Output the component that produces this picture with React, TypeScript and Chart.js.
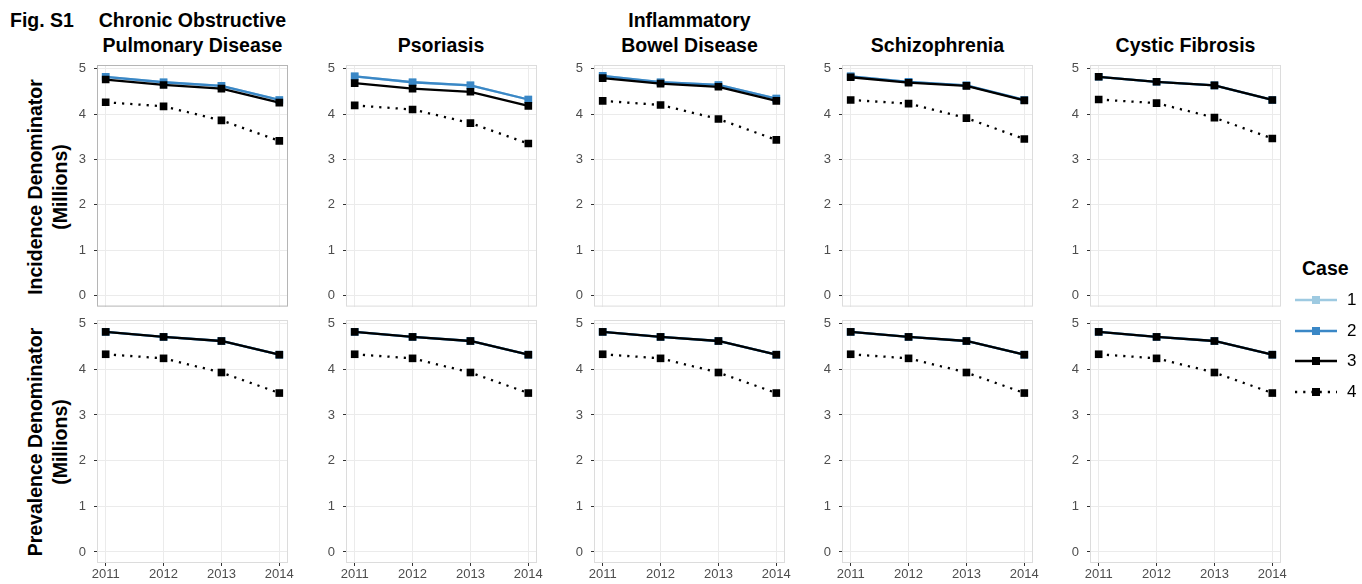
import React, { useEffect, useRef } from "react";
import { Chart, registerables } from "chart.js";

Chart.register(...registerables);

// ---------- data ----------
const years = [2011, 2012, 2013, 2014];
const diseases = [
  "Chronic Obstructive\nPulmonary Disease",
  "Psoriasis",
  "Inflammatory\nBowel Disease",
  "Schizophrenia",
  "Cystic Fibrosis",
];
const rowTitles = ["Incidence Denominator\n(Millions)", "Prevalence Denominator\n(Millions)"];
const caseLabels = ["1", "2", "3", "4"];
const yTickValues = [0, 1, 2, 3, 4, 5];

// Incidence denominators (millions), one row per disease in the order above
const incidenceCase1 = [
  [4.82, 4.7, 4.62, 4.31],
  [4.83, 4.7, 4.63, 4.32],
  [4.84, 4.7, 4.64, 4.34],
  [4.83, 4.71, 4.63, 4.31],
  [4.82, 4.71, 4.63, 4.31],
];
const incidenceCase2 = [
  [4.82, 4.7, 4.62, 4.31],
  [4.83, 4.7, 4.63, 4.32],
  [4.84, 4.7, 4.64, 4.34],
  [4.83, 4.71, 4.63, 4.31],
  [4.82, 4.71, 4.63, 4.31],
];
const incidenceCase3 = [
  [4.76, 4.64, 4.56, 4.25],
  [4.68, 4.56, 4.49, 4.18],
  [4.79, 4.67, 4.6, 4.29],
  [4.81, 4.69, 4.62, 4.3],
  [4.82, 4.71, 4.63, 4.31],
];
const incidenceCase4 = [
  [4.26, 4.17, 3.86, 3.41],
  [4.19, 4.1, 3.8, 3.35],
  [4.29, 4.2, 3.89, 3.43],
  [4.31, 4.23, 3.91, 3.45],
  [4.32, 4.24, 3.92, 3.46],
];

// Prevalence denominators (millions)
const prevalenceCase1 = [
  [4.82, 4.71, 4.62, 4.32],
  [4.82, 4.71, 4.62, 4.32],
  [4.82, 4.71, 4.62, 4.32],
  [4.82, 4.71, 4.62, 4.32],
  [4.82, 4.71, 4.62, 4.32],
];
const prevalenceCase2 = [
  [4.82, 4.71, 4.62, 4.32],
  [4.82, 4.71, 4.62, 4.32],
  [4.82, 4.71, 4.62, 4.32],
  [4.82, 4.71, 4.62, 4.32],
  [4.82, 4.71, 4.62, 4.32],
];
const prevalenceCase3 = [
  [4.82, 4.71, 4.62, 4.32],
  [4.82, 4.71, 4.62, 4.32],
  [4.82, 4.71, 4.62, 4.32],
  [4.82, 4.71, 4.62, 4.32],
  [4.82, 4.71, 4.62, 4.32],
];
const prevalenceCase4 = [
  [4.33, 4.24, 3.93, 3.48],
  [4.33, 4.24, 3.93, 3.48],
  [4.33, 4.24, 3.93, 3.48],
  [4.33, 4.24, 3.93, 3.48],
  [4.33, 4.24, 3.93, 3.48],
];

// ---------- styling / layout ----------
const FONT = "'Liberation Sans', Arial, Helvetica, sans-serif";
const caseColors = ["#9ecae1", "#3a87c6", "#000000", "#000000"];
const caseDashes = [[], [], [], [2.2, 6]];

const colLefts = [97, 345.5, 594, 842, 1090];
const rowTops = [65, 320];
const BOX_W = 191;
const BOX_H = 243;
const YW = 26; // y-axis width (labels + ticks)
const XH = 24; // x-axis height on bottom row
const RP = 14;
const TP = 8;
const BP = 4;

const boxPlugin = {
  id: "panelBox",
  afterDraw(chart: any, _args: any, opts: any) {
    const { ctx, chartArea } = chart;
    const { left, top, right, bottom } = chartArea;
    ctx.save();
    ctx.strokeStyle = opts.color || "#d9d9d9";
    ctx.lineWidth = 1;
    ctx.strokeRect(left + 0.5, top + 0.5, right - left - 1, bottom - top - 1);
    ctx.restore();
  },
};

function seriesFor(row: number, col: number): number[][] {
  if (row === 0) {
    return [incidenceCase1[col], incidenceCase2[col], incidenceCase3[col], incidenceCase4[col]];
  }
  return [prevalenceCase1[col], prevalenceCase2[col], prevalenceCase3[col], prevalenceCase4[col]];
}

function Panel({ row, col }: { row: number; col: number }) {
  const ref = useRef<HTMLCanvasElement | null>(null);
  const xh = row === 1 ? XH : 0;
  const width = YW + BOX_W + RP;
  const height = TP + BOX_H + xh + BP;
  const left = colLefts[col] - YW;
  const top = rowTops[row] - TP;

  useEffect(() => {
    if (!ref.current) return;
    const series = seriesFor(row, col);
    const datasets = series.map((vals, i) => ({
      label: caseLabels[i],
      data: years.map((yr, j) => ({ x: yr, y: vals[j] })),
      borderColor: caseColors[i],
      backgroundColor: caseColors[i],
      borderWidth: 2.3,
      borderDash: caseDashes[i],
      pointStyle: "rect" as const,
      pointRadius: 5.4,
      pointBorderWidth: 0,
      pointBackgroundColor: caseColors[i],
      order: 4 - i,
      tension: 0,
    }));
    const chart = new Chart(ref.current, {
      type: "line",
      data: { datasets },
      plugins: [boxPlugin],
      options: {
        animation: false,
        responsive: false,
        maintainAspectRatio: false,
        events: [],
        layout: { padding: { left: 0, right: RP, top: TP, bottom: BP } },
        plugins: {
          legend: { display: false },
          tooltip: { enabled: false },
          panelBox: { color: row === 0 && col === 0 ? "#b5b5b5" : "#dcdcdc" },
        } as any,
        scales: {
          x: {
            type: "linear",
            min: 2010.85,
            max: 2014.15,
            ticks: {
              stepSize: 1,
              includeBounds: false,
              display: row === 1,
              color: "#4d4d4d",
              font: { family: FONT, size: 13 },
              padding: 1,
              maxRotation: 0,
              autoSkip: false,
              callback: (v: any) => String(v),
            },
            grid: {
              color: "#ebebeb",
              lineWidth: 1,
              drawTicks: row === 1,
              tickLength: 3,
              tickColor: "#333333",
              tickWidth: 1,
            },
            border: { display: false },
            afterFit: (s: any) => {
              s.height = xh;
              s.paddingLeft = 0;
              s.paddingRight = 0;
              s.paddingTop = 0;
              s.paddingBottom = 0;
            },
          },
          y: {
            type: "linear",
            min: -0.242,
            max: 5.08,
            afterBuildTicks: (s: any) => {
              s.ticks = yTickValues.map((v) => ({ value: v }));
            },
            ticks: {
              color: "#4d4d4d",
              font: { family: FONT, size: 13 },
              padding: 8,
              callback: (v: any) => String(v),
            },
            grid: {
              color: "#ebebeb",
              lineWidth: 1,
              drawTicks: true,
              tickLength: 3,
              tickColor: "#333333",
              tickWidth: 1,
            },
            border: { display: false },
            afterFit: (s: any) => {
              s.width = YW;
              s.paddingLeft = 0;
              s.paddingRight = 0;
              s.paddingTop = 0;
              s.paddingBottom = 0;
            },
          },
        },
      },
    });
    return () => chart.destroy();
  }, [row, col]);

  return (
    <canvas
      ref={ref}
      width={width}
      height={height}
      style={{ position: "absolute", left, top, width, height }}
    />
  );
}

function LegendKey({ idx }: { idx: number }) {
  const color = caseColors[idx];
  const dash = caseDashes[idx].length ? caseDashes[idx].join(" ") : undefined;
  return (
    <svg width={46} height={20} style={{ position: "absolute", left: 0, top: 0 }}>
      <line
        x1={2}
        y1={10}
        x2={44}
        y2={10}
        stroke={color}
        strokeWidth={2.3}
        strokeDasharray={dash}
      />
      <rect x={19} y={6} width={8} height={8} fill={color} />
    </svg>
  );
}

export default function App() {
  const titleStyle: React.CSSProperties = {
    position: "absolute",
    fontFamily: FONT,
    fontWeight: "bold",
    fontSize: 19.5,
    lineHeight: "25px",
    color: "#000",
    whiteSpace: "pre",
    textAlign: "center",
  };
  return (
    <div
      style={{
        position: "absolute",
        left: 0,
        top: 0,
        width: 1362,
        height: 584,
        background: "#fff",
        overflow: "hidden",
        fontFamily: FONT,
      }}
    >
      <div style={{ ...titleStyle, left: 10, top: 7.5, textAlign: "left" }}>Fig. S1</div>
      {diseases.map((d, c) => {
        const lines = d.split("\n").length;
        return (
          <div
            key={d}
            style={{
              ...titleStyle,
              left: colLefts[c] + BOX_W / 2 - 150,
              width: 300,
              top: 57.5 - lines * 25,
            }}
          >
            {d}
          </div>
        );
      })}
      {rowTitles.map((t, r) => (
        <div
          key={t}
          style={{
            ...titleStyle,
            width: 300,
            height: 50,
            left: 47.5 - 150,
            top: rowTops[r] + BOX_H / 2 - 25,
            transform: "rotate(-90deg)",
          }}
        >
          {t}
        </div>
      ))}
      {[0, 1].map((r) =>
        [0, 1, 2, 3, 4].map((c) => <Panel key={`${r}-${c}`} row={r} col={c} />)
      )}
      <div style={{ ...titleStyle, left: 1302, top: 255.5, textAlign: "left" }}>Case</div>
      {caseLabels.map((lab, i) => (
        <div
          key={lab}
          style={{ position: "absolute", left: 1293, top: 290 + i * 30.7, width: 70, height: 20 }}
        >
          <LegendKey idx={i} />
          <div
            style={{
              position: "absolute",
              left: 54,
              top: 0,
              fontFamily: FONT,
              fontSize: 17,
              lineHeight: "20px",
              color: "#000",
            }}
          >
            {lab}
          </div>
        </div>
      ))}
    </div>
  );
}
